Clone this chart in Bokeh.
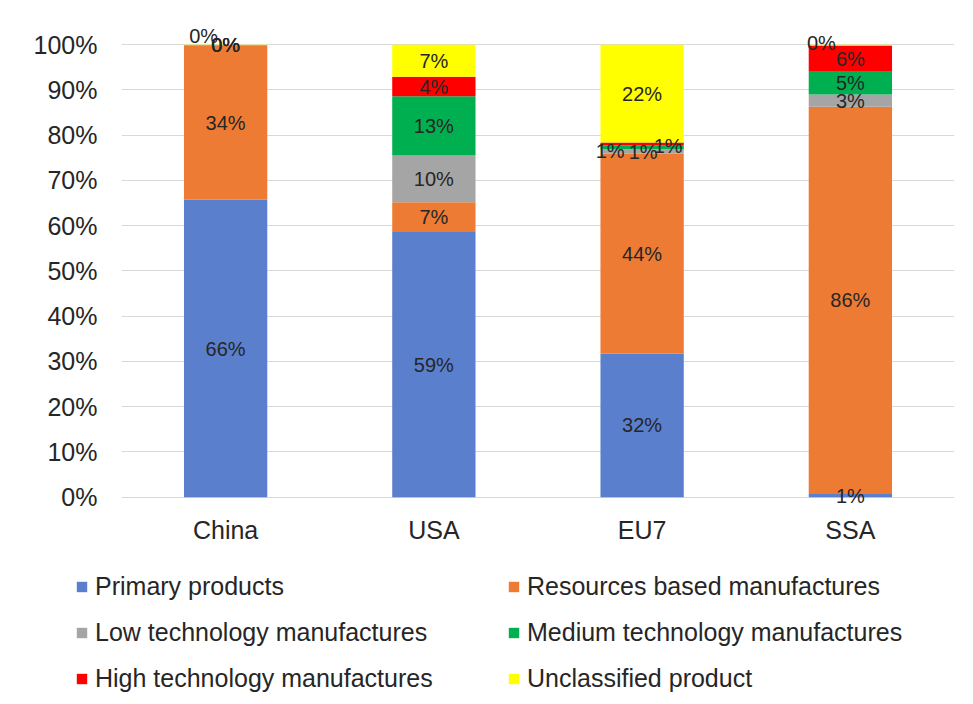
from bokeh.plotting import figure
from bokeh.layouts import column
from bokeh.models import ColumnDataSource, Legend, LegendItem, FixedTicker, Range1d, FactorRange
from bokeh.core.properties import value
from bokeh.embed import file_html
from bokeh.resources import INLINE

# ---- data ----
categories = ["China", "USA", "EU7", "SSA"]
series = ["Primary products", "Resources based manufactures", "Low technology manufactures",
          "Medium technology manufactures", "High technology manufactures", "Unclassified product"]
primary = [65.7, 58.6, 31.7, 0.7]
resources = [34.1, 6.6, 44.2, 85.6]
low_tech = [0.05, 10.3, 1.0, 2.7]
medium_tech = [0.1, 13.1, 0.8, 5.0]
high_tech = [0.0, 4.3, 0.7, 5.8]
unclassified = [0.05, 7.1, 21.6, 0.2]
y_ticks = [0, 10, 20, 30, 40, 50, 60, 70, 80, 90, 100]

values = [primary, resources, low_tech, medium_tech, high_tech, unclassified]
colors = ["#5A7FCC", "#EE7B34", "#A5A5A5", "#00B050", "#FF0000", "#FFFF00"]

# manual label nudges (pixels), as in the original chart
label_offsets = {
    ("China", 5): (-22, -9),
    ("EU7", 2): (-32, 0),
    ("EU7", 3): (1, 5),
    ("EU7", 4): (26, 2),
    ("SSA", 5): (-29, -2),
}

FONT = "Liberation Sans"
TXT = "#262626"
GRID = "#D9D9D9"

keys = ["s%d" % i for i in range(len(series))]
data = {"cat": categories}
for k, v in zip(keys, values):
    data[k] = v
src = ColumnDataSource(data)

p = figure(x_range=FactorRange(*categories), y_range=Range1d(-2.5, 106),
           width=973, height=570, output_backend="svg", toolbar_location=None,
           min_border_left=121, min_border_right=19, min_border_top=17, min_border_bottom=62)
p.frame_align = False

renderers = p.vbar_stack(keys, x="cat", width=0.4, source=src, color=colors, line_color=None)

# data labels
lx, ly, lt, ldx, ldy = [], [], [], [], []
for ci, c in enumerate(categories):
    cum = 0.0
    for si, v in enumerate(values):
        val = v[ci]
        mid = cum + val / 2.0
        cum += val
        dx, dy = label_offsets.get((c, si), (0, 0))
        lx.append(c)
        ly.append(mid)
        lt.append("%d%%" % int(round(val)))
        ldx.append(dx)
        ldy.append(dy)
lsrc = ColumnDataSource(dict(x=lx, y=ly, t=lt, dx=ldx, dy=ldy))
p.text(x="x", y="y", text="t", x_offset="dx", y_offset="dy", source=lsrc,
       text_align="center", text_baseline="middle", text_font=value(FONT),
       text_font_size="20px", text_color=TXT)

# axes
p.yaxis.ticker = FixedTicker(ticks=y_ticks)
p.yaxis.major_label_overrides = {t: "%d%%" % t for t in y_ticks}
p.yaxis.axis_line_color = None
p.yaxis.major_tick_line_color = None
p.yaxis.minor_tick_line_color = None
p.yaxis.major_label_standoff = 18
p.yaxis.major_label_text_font = FONT
p.yaxis.major_label_text_font_size = "25px"
p.yaxis.major_label_text_color = TXT

p.xaxis.axis_line_color = None
p.xaxis.major_tick_line_color = None
p.xaxis.minor_tick_line_color = None
p.xaxis.major_label_standoff = 1
p.xaxis.major_label_text_font = FONT
p.xaxis.major_label_text_font_size = "25px"
p.xaxis.major_label_text_color = TXT

p.xgrid.grid_line_color = None
p.ygrid.grid_line_color = GRID
p.ygrid.ticker = FixedTicker(ticks=y_ticks)
p.outline_line_color = None
p.background_fill_color = "white"
p.border_fill_color = "white"

# legend panel below the chart (proxy bars have zero width and lie outside its y range)
q = figure(width=973, height=134, output_backend="svg", toolbar_location=None,
           x_range=FactorRange(*categories), y_range=Range1d(-2, -1),
           x_axis_type=None, y_axis_type=None,
           min_border=0, min_border_left=0, min_border_right=0, min_border_top=0, min_border_bottom=0)
q.frame_align = False
q.outline_line_color = None
q.xgrid.visible = False
q.ygrid.visible = False
legend_renderers = [q.vbar(x="cat", top=k, bottom=k, width=0.0, source=src, color=c, line_color=None)
                    for k, c in zip(keys, colors)]
items = [LegendItem(label=s, renderers=[r]) for s, r in zip(series, legend_renderers)]
legend = Legend(items=items, ncols=2, orientation="horizontal", location=(75, 11),
                glyph_width=13, glyph_height=13, label_standoff=7, label_width=395,
                label_height=29, spacing=17, padding=0, margin=0,
                border_line_color=None, background_fill_alpha=0,
                label_text_font=FONT, label_text_font_size="25px", label_text_color=TXT)
q.add_layout(legend)

layout = column(p, q, spacing=0)
open("out.html", "w").write(file_html(layout, INLINE))
